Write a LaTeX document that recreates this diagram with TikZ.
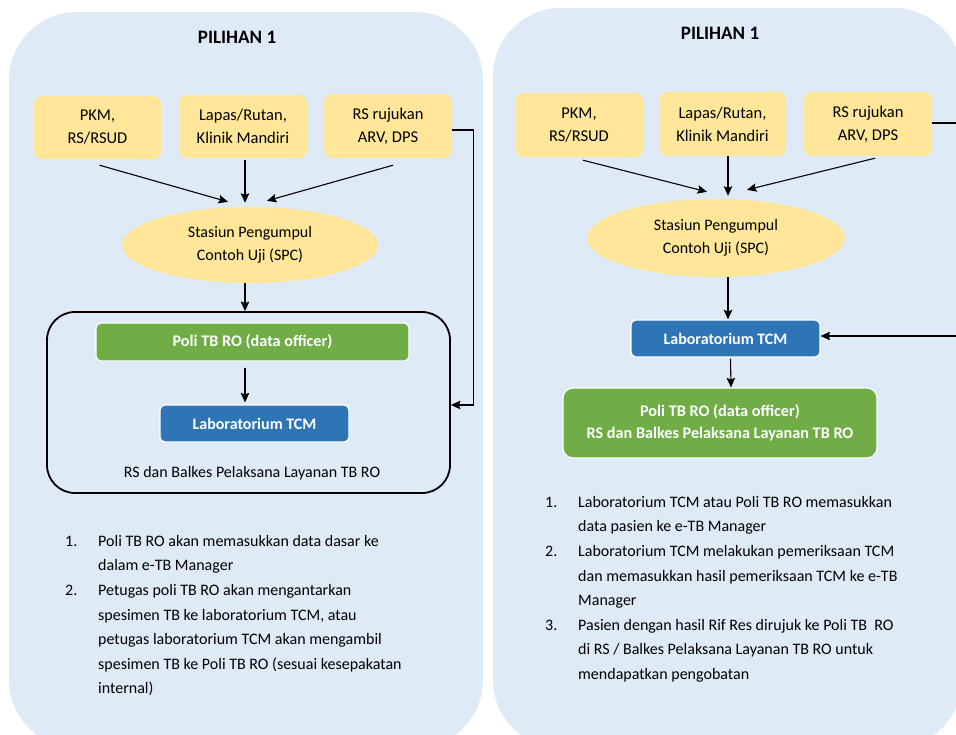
\documentclass[tikz,border=0pt]{standalone}
\usepackage{fontspec}
\setmainfont{Carlito}
\usetikzlibrary{arrows.meta,shapes.geometric}
\definecolor{panelblue}{HTML}{DEEBF7}
\definecolor{srcyellow}{HTML}{FFE699}
\definecolor{poligreen}{HTML}{70AD47}
\definecolor{labblue}{HTML}{2E75B6}
\tikzset{
  srcbox/.style={fill=srcyellow, rounded corners=8pt, inner sep=0pt, align=center,
    font=\fontsize{16.5}{23}\selectfont},
  spc/.style={ellipse, fill=srcyellow, inner sep=0pt, align=center,
    font=\fontsize{16}{23}\selectfont},
  polibox/.style={fill=poligreen, draw=white, line width=1.2pt, rounded corners=5pt,
    inner sep=0pt, align=center, text=white, font=\bfseries\fontsize{16.2}{22}\selectfont},
  labbox/.style={fill=labblue, draw=white, line width=1.2pt, rounded corners=5pt,
    inner sep=0pt, text=white, font=\bfseries\fontsize{16}{22}\selectfont},
  rsframe/.style={draw=black, line width=1.8pt, rounded corners=28pt, inner sep=0pt},
  heading/.style={font=\bfseries\fontsize{19}{22}\selectfont},
  plain/.style={font=\fontsize{16}{20}\selectfont, inner sep=0pt},
  notes/.style={font=\fontsize{16}{24.6}\selectfont, align=left, anchor=north west, inner sep=0pt},
  arr/.style={line width=1.1pt, -{Stealth[length=9.5pt,width=8.5pt,inset=1.5pt]}}
}
\newcommand{\numlab}[1]{\makebox[33pt][l]{#1}}
\newcommand{\indentlab}{\hspace*{33pt}}
\begin{document}
\begin{tikzpicture}[x=1pt,y=-1pt]
\useasboundingbox (0,0) rectangle (956,734);
\clip (0,0) rectangle (956,734);

% two background panels
\fill[panelblue, rounded corners=68pt] (9,12) rectangle (483,748);
\fill[panelblue, rounded corners=68pt] (493,8) rectangle (962,748);

% ---------------- left option ----------------
\node[heading] (ltitle) at (237,37) {PILIHAN 1};
\node[srcbox, minimum width=127pt, minimum height=63pt] (l1) at (97.5,127.5) {PKM,\\RS/RSUD};
\node[srcbox, minimum width=128pt, minimum height=63pt] (l2) at (243,126.5) {Lapas/Rutan,\\Klinik Mandiri};
\node[srcbox, minimum width=128pt, minimum height=64pt] (l3) at (388,126) {RS rujukan\\ARV, DPS};
\node[spc, minimum width=256pt, minimum height=76pt] (lspc) at (250,245) {Stasiun Pengumpul\\Contoh Uji (SPC)};
\node[rsframe, minimum width=403pt, minimum height=181pt] (lframe) at (248.5,402.5) {};
\node[polibox, minimum width=313pt, minimum height=38pt] (lpoli) at (252.5,342) {Poli TB RO (data officer)};
\node[labbox, minimum width=189pt, minimum height=37pt] (llab) at (254.5,423.5) {Laboratorium TCM};
\node[plain] (lrs) at (252,473) {RS dan Balkes Pelaksana Layanan TB RO};

\draw[arr] ([shift={(2,6)}]l1.south) -- ([shift={(-22,-5)}]lspc.north);
\draw[arr] ([shift={(2,2)}]l2.south) -- ([shift={(-5,-4)}]lspc.north);
\draw[arr] ([shift={(5,7)}]l3.south) -- ([shift={(17,-6)}]lspc.north);
\draw[arr] ([xshift=-5pt]lspc.south) -- ([xshift=-3.5pt]lframe.north);
\draw[arr] ([shift={(-7.5,6)}]lpoli.south) -- ([shift={(-9.5,-2)}]llab.north);
\draw[arr] ([yshift=-4pt]l3.east) -- ++(21,0) |- ([yshift=-2.5pt]lframe.east);

\node[notes] (lnotes) at (65,535) {%
\numlab{1.}Poli TB RO akan memasukkan data dasar ke\\
\indentlab dalam e-TB Manager\\
\numlab{2.}Petugas poli TB RO akan mengantarkan\\
\indentlab spesimen TB ke laboratorium TCM, atau\\
\indentlab petugas laboratorium TCM akan mengambil\\
\indentlab spesimen TB ke Poli TB RO (sesuai kesepakatan\\
\indentlab internal)};

% ---------------- right option ----------------
\node[heading] (rtitle) at (720,33) {PILIHAN 1};
\node[srcbox, minimum width=128pt, minimum height=64pt] (r1) at (579,125) {PKM,\\RS/RSUD};
\node[srcbox, minimum width=127pt, minimum height=64pt] (r2) at (722.5,124) {Lapas/Rutan,\\Klinik Mandiri};
\node[srcbox, minimum width=128pt, minimum height=64pt] (r3) at (868,124) {RS rujukan\\ARV, DPS};
\node[spc, minimum width=258pt, minimum height=78pt] (rspc) at (716,238) {Stasiun Pengumpul\\Contoh Uji (SPC)};
\node[labbox, minimum width=189pt, minimum height=37pt] (rlab) at (725.5,338.5) {Laboratorium TCM};
\node[polibox, rounded corners=10pt, minimum width=314pt, minimum height=70pt] (rpoli) at (720,423)
  {Poli TB RO (data officer)\\RS dan Balkes Pelaksana Layanan TB RO};

\draw[arr] ([shift={(4,3)}]r1.south) -- ([shift={(-9,-7)}]rspc.north);
\draw[arr] ([shift={(5.5,0)}]r2.south) -- ([shift={(12,-3)}]rspc.north);
\draw[arr] ([shift={(7,2)}]r3.south) -- ([shift={(31,-9)}]rspc.north);
\draw[arr] ([xshift=12pt]rspc.south) -- ([xshift=2.5pt]rlab.north);
\draw[arr] ([shift={(5,1)}]rlab.south) -- ([xshift=11pt]rpoli.north);
\draw[arr] ([yshift=1pt]r3.east) -- ++(45,0) |- ([yshift=2.5pt]rlab.east);

\node[notes] (rnotes) at (545,496) {%
\numlab{1.}Laboratorium TCM atau Poli TB RO memasukkan\\
\indentlab data pasien ke e-TB Manager\\
\numlab{2.}Laboratorium TCM melakukan pemeriksaan TCM\\
\indentlab dan memasukkan hasil pemeriksaan TCM ke e-TB\\
\indentlab Manager\\
\numlab{3.}Pasien dengan hasil Rif Res dirujuk ke Poli TB\ \ RO\\
\indentlab di RS / Balkes Pelaksana Layanan TB RO untuk\\
\indentlab mendapatkan pengobatan};
\end{tikzpicture}
\end{document}
